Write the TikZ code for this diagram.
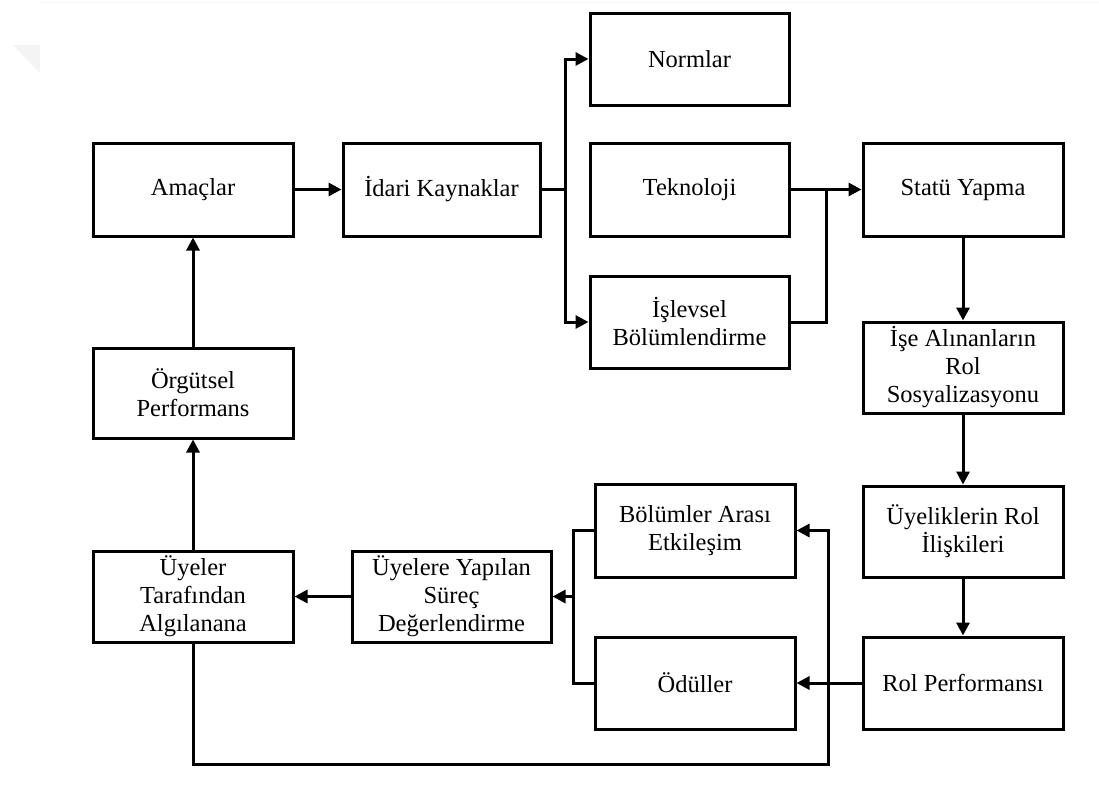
\documentclass[tikz,border=0pt]{standalone}
\usepackage{fontspec}
\setmainfont{Liberation Serif}
\usetikzlibrary{arrows.meta}
\begin{document}
\begin{tikzpicture}[x=1pt,y=-1pt,
  box/.style={draw, line width=3pt, inner sep=0pt, align=center,
    minimum width=200pt, minimum height=92pt,
    font=\fontsize{24.5}{28}\selectfont, text=black},
  link/.style={line width=3pt},
  arr/.style={link, -{Triangle[length=13pt,width=13pt]}}
]
\useasboundingbox (0,0) rectangle (1099,785);
% page-edge shading of the scan
\fill[gray!9] (13,45) -- (40,45) -- (40,73) -- cycle;
\draw[gray!7, line width=1pt] (40,2.5) -- (1099,2.5);

% boxes
\node[box, minimum height=93pt] (amac) at (193,189.5) {Amaçlar};
\node[box, minimum width=197pt, minimum height=93pt] (idari) at (441.5,189.5) {İdari Kaynaklar};
\node[box, minimum width=199pt] (norm) at (689.5,59) {Normlar};
\node[box, minimum width=199pt, minimum height=93pt] (tekno) at (689.5,189.5) {Teknoloji};
\node[box, minimum width=199pt] (islev) at (689.5,322) {İşlevsel\\Bölümlendirme};
\node[box, minimum height=93pt] (statu) at (963,189.5) {Statü Yapma};
\node[box, minimum height=91pt] (ise) at (963,367.5) {İşe Alınanların\\Rol\\Sosyalizasyonu};
\node[box, minimum height=91pt] (uyelik) at (963,531.5) {Üyeliklerin Rol\\İlişkileri};
\node[box] (rol) at (963,683) {Rol Performansı};
\node[box] (odul) at (695,683) {Ödüller};
\node[box, minimum height=93pt] (bolum) at (695,530.5) {Bölümler Arası\\Etkileşim};
\node[box, minimum width=199pt, minimum height=91pt] (surec) at (451.5,596.5) {Üyelere Yapılan\\Süreç\\Değerlendirme};
\node[box, minimum height=91pt] (uyeler) at (193,596.5) {Üyeler\\Tarafından\\Algılanana};
\node[box, minimum height=90pt] (orgut) at (193,393) {Örgütsel\\Performans};

% junction points
\coordinate (split) at (565,189.5);
\coordinate (merge) at (826,189.5);
\coordinate (loopR) at (828,764);
\coordinate (bracket) at (573,596.5);

% connectors
\draw[arr] (amac) -- (idari);
\draw[link] (idari.east) -- (split);
\draw[arr] (split) |- (norm.west);
\draw[arr] (split) |- (islev.west);
\draw[arr] (tekno.east) -- (statu.west);
\draw[link] (islev.east) -| (merge);
\draw[arr] (statu) -- (ise);
\draw[arr] (ise) -- (uyelik);
\draw[arr] (uyelik) -- (rol);
\draw[arr] (rol) -- (odul);
\draw[arr] (uyeler.south) |- (loopR) |- (bolum.east);
\draw[link] (bolum.west) -| (bracket) |- (odul.west);
\draw[arr] (bracket) -- (surec.east);
\draw[arr] (surec) -- (uyeler);
\draw[arr] (uyeler) -- (orgut);
\draw[arr] (orgut) -- (amac);
\end{tikzpicture}
\end{document}
